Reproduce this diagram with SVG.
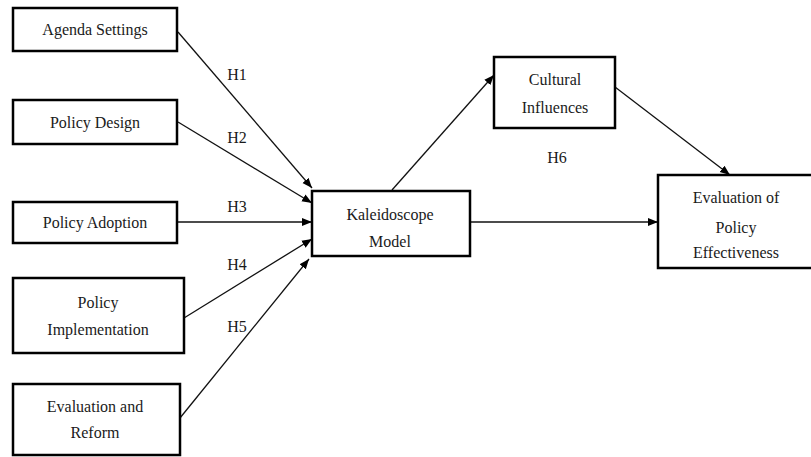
<svg xmlns="http://www.w3.org/2000/svg" width="811" height="457" viewBox="0 0 811 457">
  <style>
    .box { fill: #fff; stroke: #000; stroke-width: 2.5; }
    .lbl { font-family: 'Liberation Serif', 'Times New Roman', Times, serif; font-size: 16px; fill: #1a1a1a; text-anchor: middle; }
    .edge { stroke: #111; stroke-width: 1.3; fill: none; marker-end: url(#arrow); }
  </style>
  <defs>
    <marker id="arrow" viewBox="0 0 10 10" refX="10" refY="5" markerWidth="10" markerHeight="10" markerUnits="userSpaceOnUse" orient="auto">
      <path d="M0,1 L10,5 L0,9 Z" fill="#000"/>
    </marker>
  </defs>
  <rect width="811" height="457" fill="#fff"/>

  <g id="connectors">
    <line class="edge" x1="178" y1="32" x2="312" y2="188"/>
    <line class="edge" x1="178" y1="122" x2="312" y2="203"/>
    <line class="edge" x1="177" y1="222" x2="312" y2="222"/>
    <line class="edge" x1="184" y1="318" x2="312" y2="239"/>
    <line class="edge" x1="180" y1="418" x2="309" y2="259"/>
    <line class="edge" x1="392" y1="190" x2="494" y2="75"/>
    <line class="edge" x1="615" y1="87" x2="730" y2="175"/>
    <line class="edge" x1="471" y1="222" x2="658" y2="222"/>
    <text class="lbl" x="237" y="80">H1</text>
    <text class="lbl" x="237" y="143">H2</text>
    <text class="lbl" x="237" y="212">H3</text>
    <text class="lbl" x="237" y="270">H4</text>
    <text class="lbl" x="237" y="332">H5</text>
    <text class="lbl" x="557" y="163">H6</text>
  </g>

  <g id="agenda-settings">
    <rect class="box" x="13" y="8" width="164" height="43"/>
    <text class="lbl" x="95" y="35">Agenda Settings</text>
  </g>
  <g id="policy-design">
    <rect class="box" x="13" y="100" width="164" height="44"/>
    <text class="lbl" x="95" y="128">Policy Design</text>
  </g>
  <g id="policy-adoption">
    <rect class="box" x="13" y="202" width="164" height="41"/>
    <text class="lbl" x="95" y="228">Policy Adoption</text>
  </g>
  <g id="policy-implementation">
    <rect class="box" x="13" y="278" width="171" height="75"/>
    <text class="lbl" x="98" y="308">Policy</text>
    <text class="lbl" x="98" y="335">Implementation</text>
  </g>
  <g id="evaluation-reform">
    <rect class="box" x="13" y="384" width="167" height="71"/>
    <text class="lbl" x="95" y="412">Evaluation and</text>
    <text class="lbl" x="95" y="438">Reform</text>
  </g>
  <g id="kaleidoscope-model">
    <rect class="box" x="312" y="191" width="158" height="65"/>
    <text class="lbl" x="390" y="220">Kaleidoscope</text>
    <text class="lbl" x="390" y="247">Model</text>
  </g>
  <g id="cultural-influences">
    <rect class="box" x="494" y="57" width="121" height="71"/>
    <text class="lbl" x="555" y="85">Cultural</text>
    <text class="lbl" x="555" y="113">Influences</text>
  </g>
  <g id="policy-effectiveness">
    <!-- box runs past the right edge of the canvas -->
    <rect class="box" x="658" y="175" width="170" height="93"/>
    <text class="lbl" x="736" y="203">Evaluation of</text>
    <text class="lbl" x="736" y="233">Policy</text>
    <text class="lbl" x="736" y="258">Effectiveness</text>
  </g>
</svg>
